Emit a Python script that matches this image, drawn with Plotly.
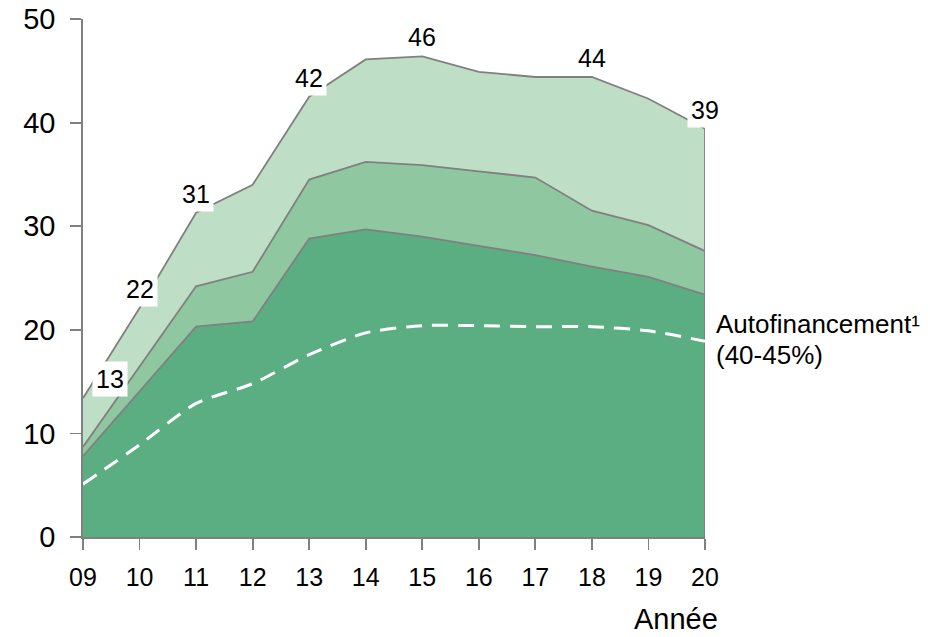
import plotly.graph_objects as go

# ---- data ----
years = ["09", "10", "11", "12", "13", "14", "15", "16", "17", "18", "19", "20"]
layer_bottom = [7.8, 14.0, 20.3, 20.8, 28.8, 29.7, 29.0, 28.1, 27.2, 26.1, 25.1, 23.4]
layer_middle = [0.9, 2.4, 3.9, 4.8, 5.7, 6.5, 6.9, 7.2, 7.5, 5.4, 5.0, 4.2]
layer_top = [4.7, 5.7, 7.1, 8.4, 8.0, 9.9, 10.5, 9.6, 9.7, 12.9, 12.2, 11.8]
autofinancement = [5.1, 8.9, 12.9, 14.8, 17.6, 19.7, 20.4, 20.4, 20.3, 20.3, 19.9, 18.9]
label_years = ["09", "10", "11", "13", "15", "18", "20"]
label_texts = ["13", "22", "31", "42", "46", "44", "39"]
y_ticks = [0, 10, 20, 30, 40, 50]

totals = [a + b + c for a, b, c in zip(layer_bottom, layer_middle, layer_top)]

# ---- styles ----
C_BOTTOM = "#5bae82"
C_MIDDLE = "#8ec7a0"
C_TOP = "#bedfc5"
C_EDGE = "#808080"
FONT = "Liberation Sans, Arial, sans-serif"

fig = go.Figure()
for vals, col in [(layer_bottom, C_BOTTOM), (layer_middle, C_MIDDLE), (layer_top, C_TOP)]:
    fig.add_trace(go.Scatter(
        x=years, y=vals, stackgroup="s", mode="lines",
        line=dict(color=C_EDGE, width=1.8), fillcolor=col,
        hoverinfo="skip", showlegend=False,
    ))

# right closing edge of the stacked area
fig.add_trace(go.Scatter(
    x=[years[-1], years[-1]], y=[0, totals[-1]], mode="lines",
    line=dict(color=C_EDGE, width=1.8), hoverinfo="skip", showlegend=False,
))

# autofinancement dashed line
fig.add_trace(go.Scatter(
    x=years, y=autofinancement, mode="lines",
    line=dict(color="white", width=3, dash="16px,10px", shape="spline", smoothing=0.7),
    hoverinfo="skip", showlegend=False,
))

# value labels above the total (annotation x uses the category index)
xshifts = {"09": 27}
for yr, txt in zip(label_years, label_texts):
    i = years.index(yr)
    fig.add_annotation(
        x=i, y=totals[i], text=txt, showarrow=False,
        xanchor="center", yanchor="middle", yshift=19, xshift=xshifts.get(yr, 0),
        bgcolor="white", borderpad=3,
        font=dict(family=FONT, size=25, color="black"),
    )

last = len(years) - 1
# series annotation
fig.add_annotation(
    x=last, y=autofinancement[-1], text="Autofinancement¹", showarrow=False,
    xanchor="left", yanchor="middle", xshift=9, yshift=17,
    font=dict(family=FONT, size=26, color="black"),
)
fig.add_annotation(
    x=last, y=autofinancement[-1], text="(40-45%)", showarrow=False,
    xanchor="left", yanchor="middle", xshift=9, yshift=-14,
    font=dict(family=FONT, size=26, color="black"),
)

# axis title
fig.add_annotation(
    x=last, y=0, xref="x", yref="paper", text="Année", showarrow=False,
    xanchor="right", yanchor="bottom", xshift=14, yshift=-99, borderpad=0,
    font=dict(family=FONT, size=29, color="black"),
)

fig.update_layout(
    width=930, height=637,
    margin=dict(l=83, r=225, t=19, b=100, autoexpand=False),
    paper_bgcolor="white", plot_bgcolor="white",
    showlegend=False,
    hovermode=False,
    xaxis=dict(
        type="category", range=[0, last],
        showgrid=False, zeroline=False, automargin=False,
        showline=True, linecolor=C_EDGE, linewidth=1.8,
        ticks="outside", ticklen=11, tickwidth=1.8, tickcolor=C_EDGE,
        tickfont=dict(family=FONT, size=25, color="black"),
        ticklabelstandoff=6,
    ),
    yaxis=dict(
        range=[0, 50], tickvals=y_ticks,
        showgrid=False, zeroline=False, automargin=False,
        showline=True, linecolor=C_EDGE, linewidth=1.8,
        ticks="outside", ticklen=11, tickwidth=1.8, tickcolor=C_EDGE,
        tickfont=dict(family=FONT, size=29, color="black"),
        ticklabelstandoff=9, ticklabeloverflow="allow",
    ),
)

fig.write_html(
    "out.html",
    config={"displayModeBar": False, "staticPlot": True},
    post_script="document.body.style.margin='0';document.body.style.overflow='hidden';",
)
